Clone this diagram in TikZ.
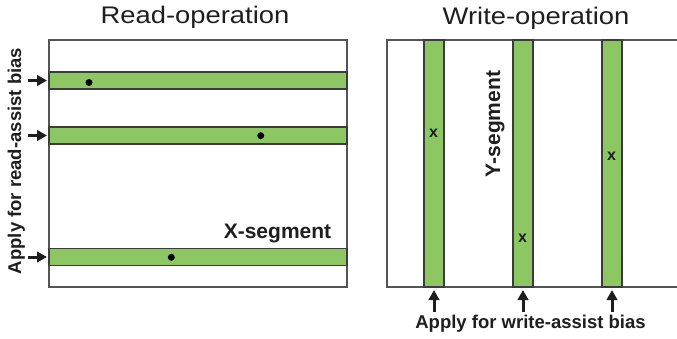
\documentclass[tikz,border=0pt]{standalone}
\usepackage{fontspec}
\setmainfont{Liberation Sans}
\newfontfamily\titlefont[FakeStretch=1.14]{Liberation Sans}
\usetikzlibrary{arrows.meta}
\definecolor{barfill}{RGB}{141,199,99}
\definecolor{barline}{RGB}{60,60,60}
\definecolor{boxline}{RGB}{85,85,85}
\definecolor{txt}{RGB}{30,30,30}
\tikzset{
  hbar/.style={draw=barline, line width=1.1pt, fill=barfill, minimum width=298pt, minimum height=17pt, inner sep=0pt, outer sep=0pt},
  vbar/.style={draw=barline, line width=1.1pt, fill=barfill, minimum width=20pt, minimum height=247pt, inner sep=0pt, outer sep=0pt},
  dotmark/.style={circle, fill=black, minimum size=7pt, inner sep=0pt},
  title/.style={font=\titlefont\fontsize{24}{28}\selectfont, text=txt, anchor=base, inner sep=0pt},
  seglabel/.style={font=\bfseries\fontsize{21}{25}\selectfont, text=txt, anchor=base, inner sep=0pt},
  biaslabel/.style={font=\bfseries\fontsize{18.5}{22}\selectfont, text=txt, anchor=base, inner sep=0pt},
  xmark/.style={font=\bfseries\fontsize{16}{19}\selectfont, text=txt, inner sep=0pt},
  biasarrow/.style={line width=3pt, -{Triangle[length=10pt,width=10.5pt]}, txt},
  boxpath/.style={draw=boxline, line width=1.4pt}
}
\begin{document}
\begin{tikzpicture}[x=1pt,y=-1pt]
\useasboundingbox (0,0) rectangle (677,339);
% ---- Read operation ----
\node[title] (rtitle) at (195,24) {Read-operation};
\node[boxpath, rectangle, minimum width=298pt, minimum height=247pt, inner sep=0pt, outer sep=0pt] (rbox) at (198,163.5) {};
\node[hbar] (r1) at (198,80.5) {};
\node[hbar] (r2) at (198,135.5) {};
\node[hbar] (r3) at (198,257) {};
\node[dotmark] (d1) at (89,82.5) {};
\node[dotmark] (d2) at (260.7,135.7) {};
\node[dotmark] (d3) at (171.3,257.3) {};
\node[seglabel] (xseg) at (277.5,238) {X-segment};
\node[biaslabel, rotate=90] (rbias) at (21,161) {Apply for read-assist bias};
\coordinate (ra1) at (28,80.5);
\coordinate (ra2) at (28,135.5);
\coordinate (ra3) at (28,257);
\draw[biasarrow, shorten >=2pt] (ra1) -- (r1.west);
\draw[biasarrow, shorten >=2pt] (ra2) -- (r2.west);
\draw[biasarrow, shorten >=2pt] (ra3) -- (r3.west);
% ---- Write operation ----
\node[title] (wtitle) at (536,25) {Write-operation};
\coordinate (wtr) at (677,40);
\coordinate (wtl) at (387,40);
\coordinate (wbl) at (387,287);
\coordinate (wbr) at (677,287);
\draw[boxpath] (wtr) -- (wtl) -- (wbl) -- (wbr);
\node[vbar] (w1) at (434,163.5) {};
\node[vbar] (w2) at (523,163.5) {};
\node[vbar] (w3) at (612,163.5) {};
\node[xmark] (x1) at (433.5,133) {x};
\node[xmark] (x2) at (522.5,238) {x};
\node[xmark] (x3) at (611.5,156) {x};
\node[seglabel, rotate=90] (yseg) at (500,124) {Y-segment};
\coordinate (wa1) at (434,312);
\coordinate (wa2) at (523,312);
\coordinate (wa3) at (612,312);
\draw[biasarrow, shorten >=3pt] (wa1) -- (w1.south);
\draw[biasarrow, shorten >=3pt] (wa2) -- (w2.south);
\draw[biasarrow, shorten >=3pt] (wa3) -- (w3.south);
\node[biaslabel] (wbias) at (530.5,328) {Apply for write-assist bias};
\end{tikzpicture}
\end{document}
